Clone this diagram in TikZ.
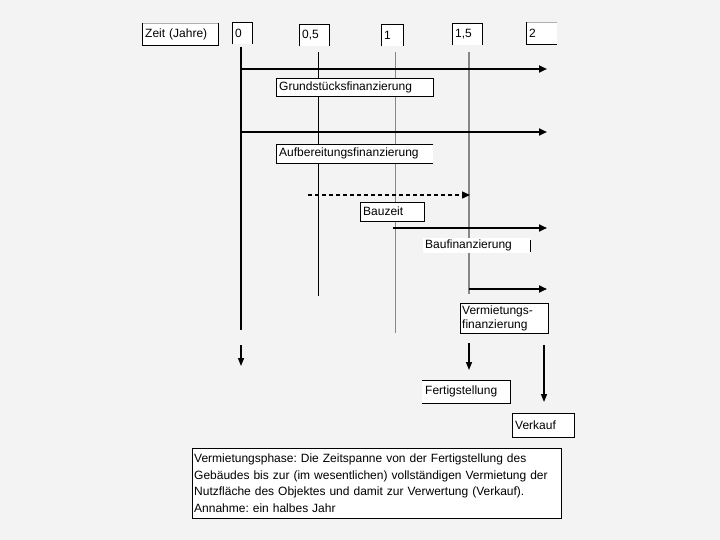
\documentclass[tikz,border=0pt]{standalone}
\usepackage{fontspec}
\setmainfont{Liberation Sans}
\usetikzlibrary{arrows.meta}
\definecolor{bg}{RGB}{243,243,243}
\definecolor{ln}{RGB}{135,135,135}
\definecolor{lt}{RGB}{175,175,175}
\frenchspacing
\begin{document}
\begin{tikzpicture}[x=1pt,y=-1pt,
  lab/.style={fill=white, anchor=north west, inner xsep=3pt, inner ysep=0pt,
              font=\fontsize{12}{14}\selectfont, align=left},
  edge/.style={line width=0.8pt, black},
  ltedge/.style={line width=0.8pt, lt},
  tl/.style={line width=2pt, -{Triangle[length=8pt,width=7pt]}},
  vl/.style={line width=1.4pt, -{Triangle[length=8pt,width=6pt]}},
]
\fill[bg] (0,0) rectangle (720,540);
\useasboundingbox (0,0) rectangle (720,540);

% header boxes
\node[lab, text width=70, minimum height=22] (zeit) at (142,23) {Zeit (Jahre)};
\node[lab, text width=14, minimum height=22] (t0) at (232,22) {0};
\node[lab, text width=24, minimum height=22] (t05) at (299,24) {0,5};
\node[lab, text width=16, minimum height=22] (t1) at (381,24) {1};
\node[lab, text width=24, minimum height=22] (t15) at (452,23) {1,5};
\node[lab, text width=25, minimum height=22] (t2) at (526,22) {2};

\draw[ltedge] (zeit.north west) -- (zeit.north east);
\draw[edge] (zeit.north west) -- (zeit.south west) -- (zeit.south east) -- (zeit.north east);
\foreach \n in {t0,t05,t1,t15}
  \draw[edge] (\n.south west) -- (\n.north west) -- (\n.north east) -- (\n.south east);
\draw[ltedge] (t2.north west) -- (t2.north east);
\draw[edge] (t2.north west) -- (t2.south west) -- (t2.south east);

% vertical time lines
\coordinate (v0a) at (241,47);  \coordinate (v0b) at (241,330);
\coordinate (v05a) at (318,52); \coordinate (v05b) at (318,296);
\coordinate (v1a) at (395,52);  \coordinate (v1b) at (395,333);
\coordinate (v15a) at (469,52); \coordinate (v15b) at (469,294);
\draw[line width=1.4pt] (v0a) -- (v0b);
\draw[line width=1pt] (v05a) -- (v05b);
\draw[line width=1pt, ln] (v1a) -- (v1b);
\draw[line width=2pt, ln] (v15a) -- (v15b);

% horizontal arrows
\coordinate (h1a) at (241,69);  \coordinate (h1b) at (547,69);
\coordinate (h2a) at (241,132); \coordinate (h2b) at (547,132);
\coordinate (h3a) at (308,195); \coordinate (h3b) at (470,195);
\coordinate (h4a) at (393,228); \coordinate (h4b) at (547,228);
\coordinate (h5a) at (469,289); \coordinate (h5b) at (547,289);
\draw[tl] (h1a) -- (h1b);
\draw[tl] (h2a) -- (h2b);
\draw[tl, line width=1.4pt, dash pattern=on 4pt off 3pt] (h3a) -- (h3b);
\draw[tl] (h4a) -- (h4b);
\draw[tl] (h5a) -- (h5b);

% label boxes
\node[lab, text width=151, minimum height=18] (grund) at (276,78) {Grundstücksfinanzierung};
\draw[edge] (grund.north west) rectangle (grund.south east);

\node[lab, text width=151, minimum height=19] (aufb) at (276,144) {Aufbereitungsfinanzierung};
\draw[edge] (aufb.north east) -- (aufb.north west) -- (aufb.south west) -- (aufb.south east);

\node[lab, text width=58, minimum height=19, inner xsep=3pt] (bau) at (360,202) {Bauzeit};
\draw[edge] (bau.north west) rectangle (bau.south east);

\node[lab, text width=103, minimum height=15, inner xsep=2pt] (baufin) at (423,238) {Baufinanzierung};
\draw[edge] ([yshift=-2pt]baufin.north east) -- ([yshift=1pt]baufin.south east);

\node[lab, text width=84, minimum height=30, inner xsep=2pt,
      font=\fontsize{12}{14}\selectfont] (verm) at (460,303) {Vermietungs-\\finanzierung};
\draw[edge] (verm.north west) rectangle (verm.south east);

% lower arrows
\coordinate (a0a) at (241,345);  \coordinate (a0b) at (241,366);
\coordinate (a15a) at (469,343); \coordinate (a15b) at (469,370);
\coordinate (a2a) at (544,345);  \coordinate (a2b) at (544,402);
\draw[vl] (a0a) -- (a0b);
\draw[vl] (a15a) -- (a15b);
\draw[vl] (a2a) -- (a2b);

\node[lab, text width=82, minimum height=23] (fert) at (422,380) {Fertigstellung};
\draw[edge] (fert.north west) -- (fert.north east) -- (fert.south east) -- (fert.south west);

\node[lab, text width=56, minimum height=24] (verk) at (512,413) {Verkauf};
\draw[edge] (verk.north west) rectangle (verk.south east);

\node[lab, text width=365, minimum height=70, inner xsep=2pt,
      font=\fontsize{12}{16.5}\selectfont] (big) at (192,448)
  {Vermietungsphase: Die Zeitspanne von der Fertigstellung des\\
   Gebäudes bis zur (im wesentlichen) vollständigen Vermietung der\\
   Nutzfläche des Objektes und damit zur Verwertung (Verkauf).\\
   Annahme: ein halbes Jahr};
\draw[edge] (big.north west) rectangle (big.south east);
\draw[line width=1.6pt] (big.south west) -- (big.south east) -- (big.north east);
\end{tikzpicture}
\end{document}
